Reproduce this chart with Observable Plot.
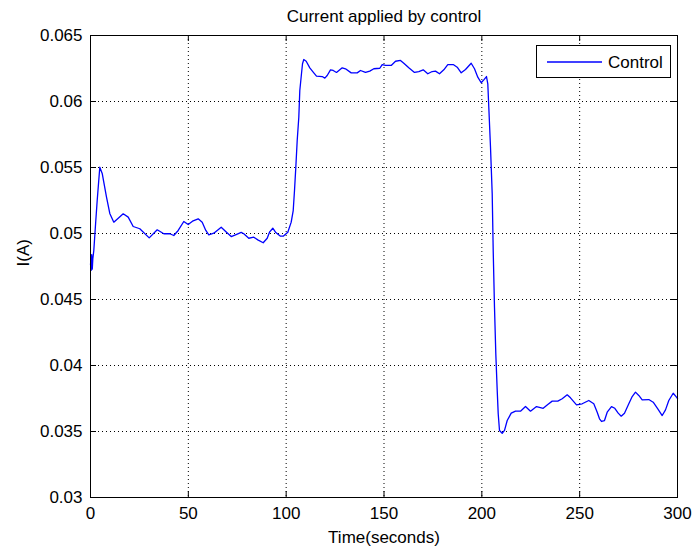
<!DOCTYPE html>
<html>
<head>
<meta charset="utf-8">
<script src="https://cdn.jsdelivr.net/npm/d3@7"></script>
<script src="https://cdn.jsdelivr.net/npm/@observablehq/plot@0.6"></script>
<style>
  html, body { margin: 0; padding: 0; background: #fff; }
  #chart { position: relative; width: 692px; height: 551px; }
  #legend { position: absolute; left: 536px; top: 45px; width: 133px; height: 31px;
    border: 1px solid #000; background: #fff; font: 17px "Liberation Sans", Arial, sans-serif; }
  #legend svg { position: absolute; left: 0; top: 0; }
</style>
</head>
<body>
<div id="chart"></div>
<script>
const chartTitle = "Current applied by control";
const xLabel = "Time(seconds)";
const yLabel = "I(A)";
const seriesName = "Control";
const xTicks = [0, 50, 100, 150, 200, 250, 300];
const yTicks = [0.03, 0.035, 0.04, 0.045, 0.05, 0.055, 0.06, 0.065];
const yTickLabels = ["0.03", "0.035", "0.04", "0.045", "0.05", "0.055", "0.06", "0.065"];

const time = [
  0, 0.3, 0.6, 0.9, 1.2, 1.69, 2.71, 3.42, 4.75, 5.98, 8.18, 9.86, 11.91, 16.71, 19.27, 21.82, 25.2, 30.0,
  34.09, 37.46, 40.53, 42.57, 44.82, 47.68, 49.93, 52.13, 55.04, 57.09, 58.93, 60.46, 63.01, 66.8, 69.5,
  71.91, 74.11, 77.02, 78.35, 80.9, 83.46, 85.5, 88.26, 90.31, 91.48, 93.17, 94.55, 97.1, 98.48, 100.84,
  102.57, 103.6, 104.26, 104.93, 105.64, 106.46, 106.97, 107.84, 108.35, 109.01, 110.24, 112.08, 114.12,
  115.5, 118.42, 119.75, 120.97, 122.66, 124.04, 125.72, 128.64, 130.32, 133.24, 136.3, 137.99, 140.54,
  142.74, 144.79, 147.85, 149.08, 150.77, 153.68, 155.88, 158.43, 160.12, 162.67, 165.59, 167.79, 170.03,
  172.38, 174.63, 176.32, 178.36, 180.56, 182.61, 185.37, 187.41, 189.46, 191.66, 194.56, 196.25, 197.94,
  199.67, 201.0, 202.38, 203.05, 203.56, 204.43, 205.3, 205.81, 206.47, 207.14, 207.86, 208.37, 209.03,
  210.41, 211.59, 212.97, 215.01, 217.21, 219.76, 222.32, 224.87, 227.94, 231.36, 233.71, 235.96, 238.82,
  241.07, 243.63, 245.31, 248.38, 251.29, 254.67, 257.22, 258.96, 260.14, 261.16, 262.69, 264.07, 266.27,
  267.96, 269.69, 271.23, 272.91, 275.11, 276.85, 278.53, 280.22, 281.96, 285.33, 287.58, 289.93, 292.18,
  293.87, 295.55, 297.8, 299.49, 300
];
const current = [
  0.0477, 0.0472, 0.0484, 0.0473, 0.0481, 0.04871, 0.05098, 0.0525, 0.05502, 0.05455, 0.05275, 0.05152,
  0.05086, 0.05149, 0.05124, 0.05053, 0.05036, 0.04967, 0.05028, 0.04998, 0.04998, 0.04985, 0.05023,
  0.05091, 0.05068, 0.05093, 0.05111, 0.05086, 0.05023, 0.0499, 0.05002, 0.05048, 0.0501, 0.04977, 0.0499,
  0.05008, 0.04998, 0.04964, 0.04972, 0.04952, 0.0493, 0.04964, 0.0501, 0.0504, 0.0501, 0.0498, 0.0498,
  0.0501, 0.05086, 0.05174, 0.05326, 0.05502, 0.05705, 0.05881, 0.06083, 0.06212, 0.06286, 0.06318,
  0.06305, 0.06255, 0.06217, 0.06192, 0.06189, 0.06177, 0.06197, 0.0624, 0.06235, 0.0622, 0.06255,
  0.06248, 0.06217, 0.06217, 0.06235, 0.0622, 0.0623, 0.06248, 0.06252, 0.0628, 0.06273, 0.06273, 0.06305,
  0.06311, 0.0629, 0.06255, 0.0622, 0.06227, 0.0624, 0.0621, 0.06227, 0.0623, 0.0621, 0.0624, 0.0628,
  0.0628, 0.0626, 0.06217, 0.06242, 0.0629, 0.06248, 0.06184, 0.06142, 0.06164, 0.06189, 0.06134,
  0.05957, 0.05654, 0.05301, 0.04871, 0.04442, 0.04089, 0.03811, 0.03634, 0.03508, 0.03487, 0.03508,
  0.03583, 0.03639, 0.03654, 0.03654, 0.03689, 0.03654, 0.03689, 0.03676, 0.03705, 0.0373, 0.0373,
  0.03748, 0.03778, 0.03755, 0.03702, 0.0371, 0.03735, 0.0371, 0.03646, 0.03596, 0.03576, 0.03583,
  0.03646, 0.03689, 0.03676, 0.03639, 0.03616, 0.03639, 0.0371, 0.03765, 0.03798, 0.03773, 0.0374,
  0.03742, 0.03722, 0.03672, 0.03621, 0.03664, 0.03735, 0.0379, 0.0376, 0.0375
];

const data = time.map((t, i) => ({t, v: current[i]}));

const W = 692, H = 551;
const mL = 90, mR = 15, mT = 35, mB = 54;
const innerW = W - mL - mR, innerH = H - mT - mB;
const tickLen = 6;
const font = '"Liberation Sans", Arial, sans-serif';

const chart = Plot.plot({
  width: W, height: H,
  marginLeft: mL, marginRight: mR, marginTop: mT, marginBottom: mB,
  style: {fontFamily: font, fontSize: "17px", background: "#fff", color: "#000"},
  x: {domain: [0, 300], ticks: xTicks},
  y: {domain: [0.03, 0.065], ticks: yTicks},
  marks: [
    Plot.ruleX(xTicks.slice(1, -1), {x: d => d, stroke: "#000", strokeDasharray: "1,3", strokeWidth: 1}),
    Plot.ruleY(yTicks.slice(1, -1), {y: d => d, stroke: "#000", strokeDasharray: "1,3", strokeWidth: 1}),
    Plot.tickX(xTicks, {x: d => d, insetTop: innerH - tickLen, stroke: "#000"}),
    Plot.tickX(xTicks, {x: d => d, insetBottom: innerH - tickLen, stroke: "#000"}),
    Plot.tickY(yTicks, {y: d => d, insetRight: innerW - tickLen, stroke: "#000"}),
    Plot.tickY(yTicks, {y: d => d, insetLeft: innerW - tickLen, stroke: "#000"}),
    Plot.line(data, {x: "t", y: "v", stroke: "#0000ff", strokeWidth: 1.3}),
    Plot.frame({stroke: "#000", strokeWidth: 1}),
    Plot.axisX(xTicks, {anchor: "bottom", tickSize: 0, tickPadding: 9, label: null, fontSize: 17}),
    Plot.axisY(yTicks, {anchor: "left", tickSize: 0, tickPadding: 8, label: null, fontSize: 17,
      tickFormat: (d) => yTickLabels[yTicks.indexOf(d)]}),
    Plot.text([chartTitle], {frameAnchor: "top", dy: -19, lineAnchor: "middle", fontSize: 17}),
    Plot.text([xLabel], {frameAnchor: "bottom", dy: 40, lineAnchor: "middle", fontSize: 17}),
    Plot.text([yLabel], {frameAnchor: "left", dx: -67, rotate: -90, lineAnchor: "middle", fontSize: 17})
  ]
});

const container = document.getElementById("chart");
container.appendChild(chart);

// legend box
const legend = document.createElement("div");
legend.id = "legend";
legend.innerHTML = `<svg width="133" height="31">
  <line x1="10" x2="65" y1="16" y2="16" stroke="#0000ff" stroke-width="1.3"></line>
  <text x="71" y="16" dy="0.35em" font-size="17" font-family='${font}' fill="#000">${seriesName}</text>
</svg>`;
container.appendChild(legend);
</script>
</body>
</html>
